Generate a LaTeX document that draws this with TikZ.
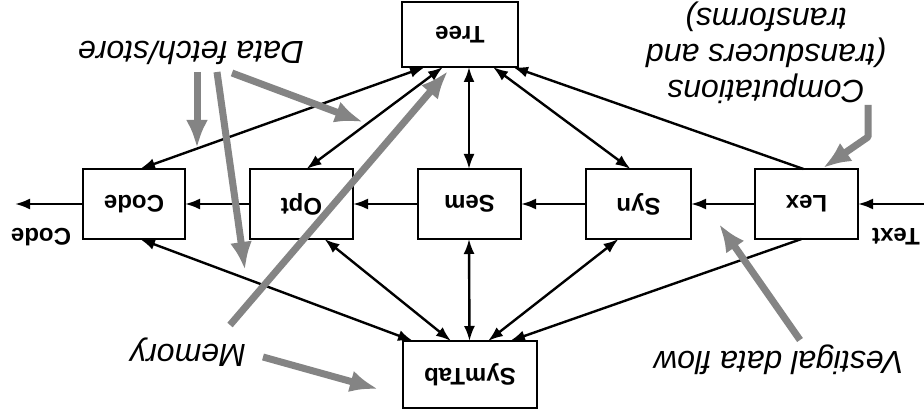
\documentclass[tikz,border=0pt]{standalone}
\usepackage{fontspec}
\setmainfont{Liberation Sans}
\usetikzlibrary{arrows.meta}
\definecolor{arrowgray}{RGB}{132,132,132}
\begin{document}
\begin{tikzpicture}[x=1pt,y=-1pt,
  stage/.style={draw,line width=2.4pt,minimum height=70pt,outer sep=0pt,inner sep=0pt,
    font=\fontsize{24}{28}\selectfont\bfseries},
  link/.style={line width=2.4pt,{Latex[length=15pt,width=11pt]}-{Latex[length=15pt,width=11pt]}},
  flow/.style={line width=2.4pt,-{Latex[length=15pt,width=11pt]}},
  note/.style={rotate=180,align=center,font=\fontsize{32}{36}\selectfont\itshape},
  tag/.style={rotate=180,font=\fontsize{24}{28}\selectfont\bfseries},
  hint/.style={draw=arrowgray,line width=7pt,-{Latex[length=28pt,width=22pt]}},
  ]
\useasboundingbox (0,0) rectangle (924,417);
\fill[white] (0,0) rectangle (924,417);

% compiler stages and shared stores
\node[stage,minimum width=116pt,minimum height=65pt] (tree) at (460,34.5) {\rotatebox{180}{Tree}};
\node[stage,minimum width=102pt] (code) at (134,204) {\rotatebox{180}{Code}};
\node[stage,minimum width=103pt] (opt) at (301.5,204) {\rotatebox{180}{Opt}};
\node[stage,minimum width=103pt] (sem) at (469.5,204) {\rotatebox{180}{Sem}};
\node[stage,minimum width=105pt] (syn) at (638.5,204) {\rotatebox{180}{Syn}};
\node[stage,minimum width=103pt] (lex) at (806.5,204) {\rotatebox{180}{Lex}};
\node[stage,minimum width=134pt,minimum height=67pt] (symtab) at (470,374.5) {\rotatebox{180}{SymTab}};

% pipeline input and output
\coordinate (in) at (924,204);
\coordinate (out) at (15,204);
\node[tag] (intext) at (896,237) {Text};
\node[tag] (outtext) at (41,237) {Code};

\draw[flow] (in) -- (lex.east);
\draw[flow] (lex.west) -- (syn.east);
\draw[flow] (syn.west) -- (sem.east);
\draw[flow] (sem.west) -- (opt.east);
\draw[flow] (opt.west) -- (code.east);
\draw[flow] (code.west) -- (out);

% tree accesses
\draw[link] ([xshift=-35pt]tree.south) -- ([xshift=6pt]code.north);
\draw[link] ([xshift=-17pt]tree.south) -- ([xshift=5pt]opt.north);
\draw[link] ([xshift=9pt]tree.south) -- ([xshift=-0.5pt]sem.north);
\draw[link] ([xshift=33pt]tree.south) -- ([xshift=-8pt]syn.north);
\draw[flow] ([xshift=-3pt]lex.north) -- ([xshift=53pt]tree.south);

% symbol table accesses
\draw[link] ([xshift=6pt]code.south) -- ([xshift=-57pt]symtab.north);
\draw[link] ([xshift=23pt]opt.south) -- ([xshift=-19pt]symtab.north);
\draw[link] ([xshift=-0.5pt]sem.south) -- ([xshift=-0.5pt]symtab.north);
\draw[link] ([xshift=-20pt]syn.south) -- ([xshift=18pt]symtab.north);
\draw[flow] ([xshift=-5pt]lex.south) -- ([xshift=40pt]symtab.north);

% annotations
\node[note] (fetch) at (191,53) {Data fetch/store};
\node[note] (memory) at (188,352) {Memory};
\node[note] (vestigal) at (779,360) {Vestigal data flow};
\node[note] (comput) at (766,53) {Computations\\(transducers and\\transforms)};

\coordinate (f1a) at (197,72);  \coordinate (f1b) at (197,148);
\coordinate (f2a) at (217,72);  \coordinate (f2b) at (245,270);
\coordinate (f3a) at (232,73);  \coordinate (f3b) at (363,122);
\coordinate (m1a) at (230,325); \coordinate (m1b) at (448,71);
\coordinate (m2a) at (263,357); \coordinate (m2b) at (378,389);
\coordinate (va) at (800,340);  \coordinate (vb) at (719,224);
\coordinate (ca) at (868,105);  \coordinate (cm) at (868,137); \coordinate (cb) at (823,168);

\draw[hint] (f1a) -- (f1b);
\draw[hint] (f2a) -- (f2b);
\draw[hint] (f3a) -- (f3b);
\draw[hint] (m1a) -- (m1b);
\draw[hint] (m2a) -- (m2b);
\draw[hint] (va) -- (vb);
\draw[hint,line join=round] (ca) -- (cm) -- (cb);
\end{tikzpicture}
\end{document}
